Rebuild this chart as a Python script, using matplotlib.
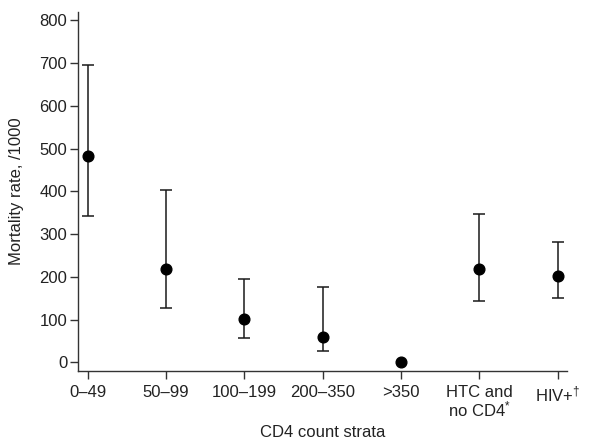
import matplotlib
matplotlib.use("Agg")
import matplotlib.pyplot as plt

# CD4 strata and mortality rates (/1000) with 95% CI (None = no interval drawn)
strata = ['0–49', '50–99', '100–199', '200–350', '>350',
          'HTC and\nno CD4$^{*}$', 'HIV+$^{\\dagger}$']
rate = [484, 219, 102, 60, 1, 218, 203]
lower = [342, 128, 58, 26, None, 143, 150]
upper = [696, 403, 195, 176, None, 347, 281]

plt.rcParams['font.family'] = ['Liberation Sans', 'DejaVu Sans']
plt.rcParams['mathtext.fontset'] = 'custom'
plt.rcParams['mathtext.rm'] = 'Liberation Sans'
plt.rcParams['mathtext.it'] = 'Liberation Sans'

fig = plt.figure(figsize=(6, 4.4), dpi=100)
ax = fig.add_axes([0.1305, 0.156, 0.8145, 0.817])

x = list(range(len(strata)))
ci = [i for i in x if lower[i] is not None]
err = [[rate[i] - lower[i] for i in ci], [upper[i] - rate[i] for i in ci]]
ax.errorbar(ci, [rate[i] for i in ci], yerr=err, fmt='none', ecolor='#1a1a1a',
            capsize=4.5, elinewidth=1.1, capthick=1.1)
ax.plot(x, rate, 'o', color='black', markersize=7.7, zorder=3)

ax.set_xlim(-0.12, 6.12)
ax.set_ylim(-21, 820)
ax.set_yticks(range(0, 801, 100))
ax.set_xticks(x)
ax.set_xticklabels(strata, linespacing=1.0)

for s in ['top', 'right']:
    ax.spines[s].set_visible(False)
for s in ['left', 'bottom']:
    ax.spines[s].set_linewidth(1.0)
    ax.spines[s].set_color('#333333')

ax.tick_params(axis='both', direction='out', length=5.5, width=1.0,
               color='#333333', labelsize=12, labelcolor='#222222')
ax.tick_params(axis='x', pad=4)
ax.tick_params(axis='y', pad=2.5)
ax.set_xlabel('CD4 count strata', fontsize=12, color='#222222', labelpad=4)
ax.set_ylabel('Mortality rate, /1000', fontsize=12, color='#222222', labelpad=11)

fig.savefig('out.png', dpi=100)
